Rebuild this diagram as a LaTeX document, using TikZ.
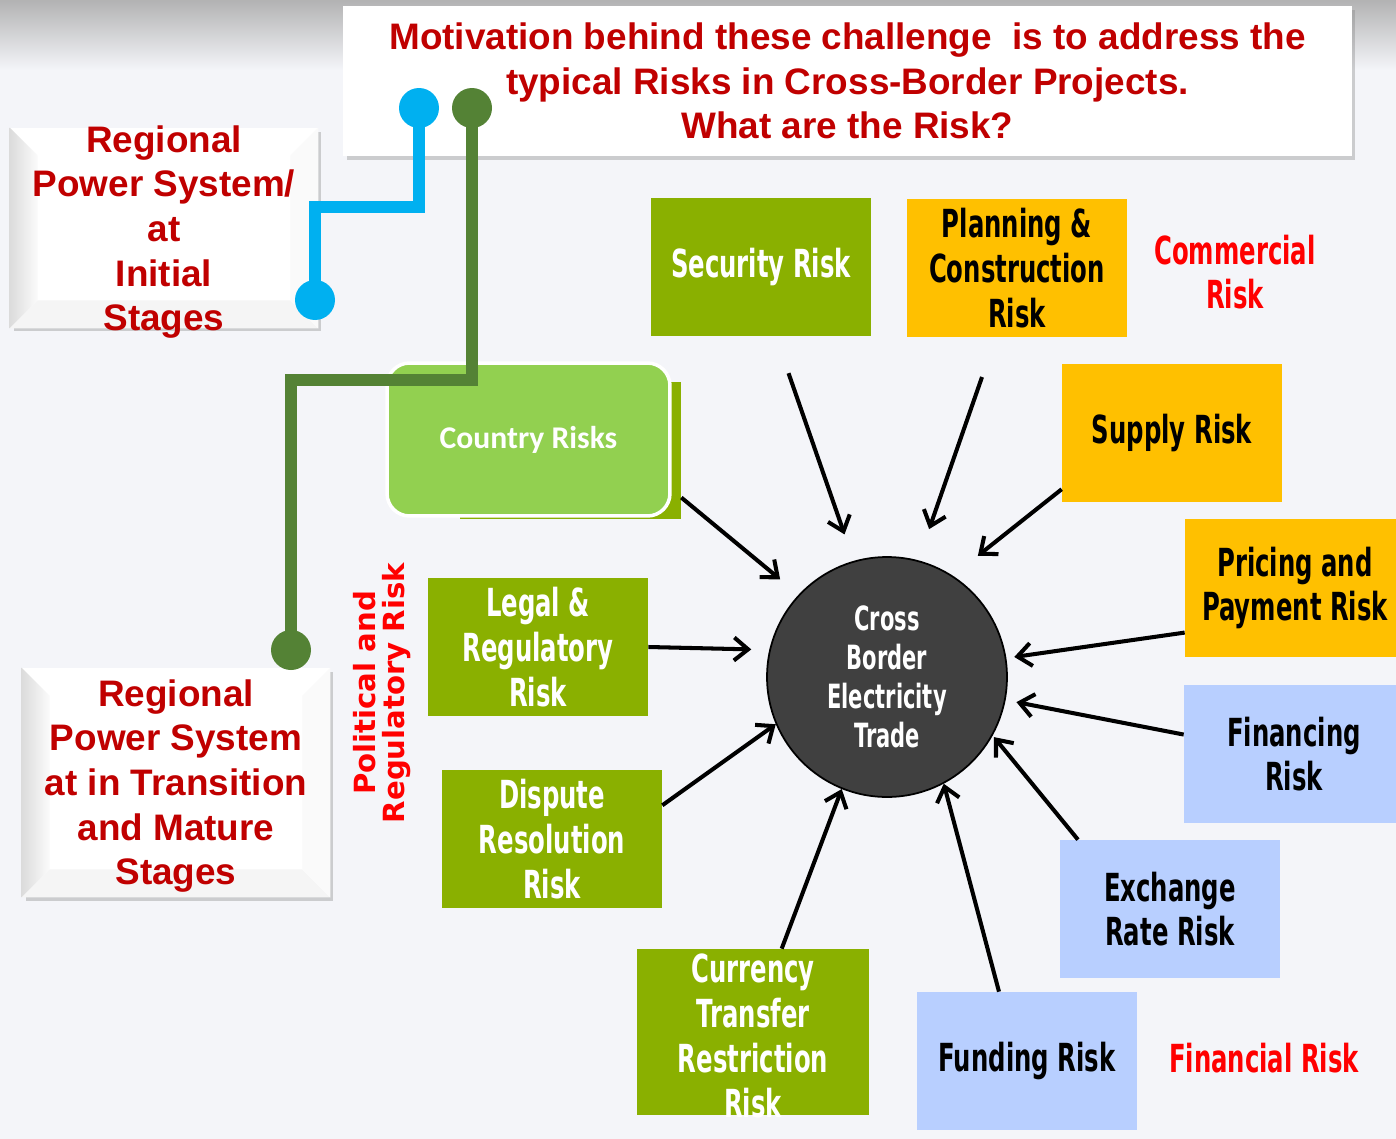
\documentclass[tikz,border=0pt]{standalone}
\usepackage{fontspec}
\setmainfont{Liberation Sans}
\newfontfamily\boxfont{DejaVu Sans}[FakeStretch=0.63]
\newfontfamily\verdfont{DejaVu Sans}
\newfontfamily\calfont{Carlito}
\usetikzlibrary{arrows.meta,shadows}
\definecolor{bgcol}{RGB}{244,245,249}
\definecolor{riskolive}{HTML}{8AB000}
\definecolor{riskgreen}{HTML}{92D050}
\definecolor{riskorange}{HTML}{FFC000}
\definecolor{riskblue}{HTML}{B8CFFF}
\definecolor{darkred}{HTML}{C00000}
\definecolor{brightred}{HTML}{FF0000}
\definecolor{linkblue}{HTML}{00B0F0}
\definecolor{linkgreen}{HTML}{548235}
\definecolor{hubgray}{HTML}{404040}
\tikzset{
	riskbox/.style 2 args={rectangle,fill=#1,text=#2,minimum width=4.4cm,minimum height=2.76cm,align=center,inner sep=0pt,font=\boxfont\bfseries\fontsize{22}{25.5}\selectfont},
	redlabel/.style={text=brightred,align=center,font=\boxfont\bfseries\fontsize{22}{25.5}\selectfont},
	stagebox/.style={rectangle,fill=white,minimum width=6.16cm,drop shadow={shadow xshift=2pt,shadow yshift=-2pt,opacity=0.35}},
	stagetext/.style={text=darkred,align=center,font=\bfseries\fontsize{21}{25.4}\selectfont},
	linkdot/.style={circle,fill=#1,inner sep=0pt,minimum size=0.8cm},
	link/.style={line width=7pt,draw=#1},
	arr/.style={-{Straight Barb[length=2.8mm,width=4.6mm]},line width=2.3pt}
}
\newcommand{\bevel}[1]{%
	\shade[left color=gray!28,right color=gray!3] (#1.south west) -- (#1.north west) -- ([shift={(28,28)}]#1.north west) -- ([shift={(28,-28)}]#1.south west) -- cycle;
	\fill[gray!8] (#1.south west) -- (#1.south east) -- ([shift={(-28,-28)}]#1.south east) -- ([shift={(28,-28)}]#1.south west) -- cycle;
	\fill[gray!4] (#1.north east) -- (#1.south east) -- ([shift={(-28,-28)}]#1.south east) -- ([shift={(-28,28)}]#1.north east) -- cycle;
}
\begin{document}
\begin{tikzpicture}[x=0.02cm,y=-0.02cm]
	\useasboundingbox (0,0) rectangle (1396,1139);
	\fill[bgcol] (0,0) rectangle (1396,1139);
	\shade[top color=gray!60,bottom color=bgcol] (0,0) rectangle (1396,70);

	% title and the two stage boxes
	\node[rectangle,fill=white,minimum width=20.18cm,minimum height=3cm,drop shadow={shadow xshift=2pt,shadow yshift=-2pt,opacity=0.35},
		text=darkred,align=center,font=\bfseries\fontsize{21}{25.2}\selectfont] (title) at (847.5,81)
		{Motivation behind these challenge\ \ is to address the\\typical Risks in Cross-Border Projects.\\What are the Risk?};

	\node[stagebox,minimum height=4cm] (initial) at (164,228) {};
	\bevel{initial}
	\node[stagetext] (initialtext) at (164,232) {Regional\\Power System/\\at\\Initial\\Stages};

	\node[stagebox,minimum height=4.58cm] (mature) at (176,782.5) {};
	\bevel{mature}
	\node[stagetext] (maturetext) at (176,786) {Regional\\Power System\\at in Transition\\and Mature\\Stages};

	% country risks
	\node[riskbox={riskolive}{white},minimum width=4.42cm,minimum height=2.74cm] (countryback) at (570.5,450.5) {};
	\node[draw=white,line width=2pt,fill=riskgreen,rounded corners=0.45cm,minimum width=5.66cm,minimum height=3.06cm,
		text=white,font=\calfont\bfseries\fontsize{18}{22}\selectfont] (country) at (528.5,439.5) {Country Risks};

	% connectors from the stage boxes
	\node[linkdot=linkblue] (blueA) at (419,108) {};
	\node[linkdot=linkblue] (blueB) at (315,300) {};
	\node[linkdot=linkgreen] (greenA) at (472,108) {};
	\node[linkdot=linkgreen] (greenB) at (291,650) {};
	\draw[link=linkblue] (blueA.center) -- (blueA |- 0,207) -| (blueB.center);
	\draw[link=linkgreen] (greenA.center) -- (greenA |- 0,380) -| (greenB.center);

	% risk boxes
	\node[riskbox={riskolive}{white}] (security) at (761,267) {Security Risk};
	\node[riskbox={riskorange}{black}] (planning) at (1017,268) {Planning \&\\Construction\\Risk};
	\node[redlabel] (commercial) at (1235,272) {Commercial\\Risk};
	\node[riskbox={riskorange}{black}] (supply) at (1172,433) {Supply Risk};
	\node[riskbox={riskorange}{black}] (pricing) at (1295,588) {Pricing and\\Payment Risk};
	\node[riskbox={riskblue}{black}] (financing) at (1294,754) {Financing\\Risk};
	\node[riskbox={riskblue}{black}] (exchange) at (1170,909) {Exchange\\Rate Risk};
	\node[riskbox={riskblue}{black}] (funding) at (1027,1061) {Funding Risk};
	\node[redlabel] (financial) at (1264,1058) {Financial Risk};
	\node[riskbox={riskolive}{white},minimum width=4.64cm,minimum height=3.32cm] (currency) at (753,1032) {};
	\node[text=white,align=center,font=\boxfont\bfseries\fontsize{22}{25.5}\selectfont] (currencytext) at (753,1036) {Currency\\Transfer\\Restriction\\Risk};
	\node[riskbox={riskolive}{white}] (dispute) at (552,839) {Dispute\\Resolution\\Risk};
	\node[riskbox={riskolive}{white}] (legal) at (538,647) {Legal \&\\Regulatory\\Risk};
	\node[rotate=90,text=brightred,align=center,font=\verdfont\bfseries\fontsize{16.6}{16.8}\selectfont] (political) at (382,693) {Political and\\Regulatory Risk};

	% hub
	\node[circle,fill=hubgray,draw=black,line width=1pt,minimum size=4.8cm,inner sep=0pt,text=white,align=center,
		font=\boxfont\bfseries\fontsize{19}{22.1}\selectfont] (hub) at (887,677) {Cross\\Border\\Electricity\\Trade};

	\draw[arr,shorten >=0.48cm] (countryback.-23) -- (hub.137);
	\draw[arr,shorten <=0.78cm,shorten >=0.56cm] (security.-78) -- (hub.106);
	\draw[arr,shorten <=0.84cm,shorten >=0.66cm] (planning.-107) -- (hub.75);
	\draw[arr,shorten >=0.64cm] (supply.-153) -- (hub.57);
	\draw[arr,shorten >=0.16cm] (pricing.-158) -- (hub.9);
	\draw[arr,shorten >=0.22cm] (financing.170) -- (hub.-11);
	\draw[arr,shorten >=0.04cm] (exchange.143) -- (hub.-29);
	\draw[arr] (funding.112) -- (hub.-62);
	\draw[arr] (currency.71) -- (hub.-112);
	\draw[arr] (dispute.17) -- (hub.-157);
	\draw[arr,shorten >=0.36cm] (legal.east) -- (hub.167);
\end{tikzpicture}
\end{document}
